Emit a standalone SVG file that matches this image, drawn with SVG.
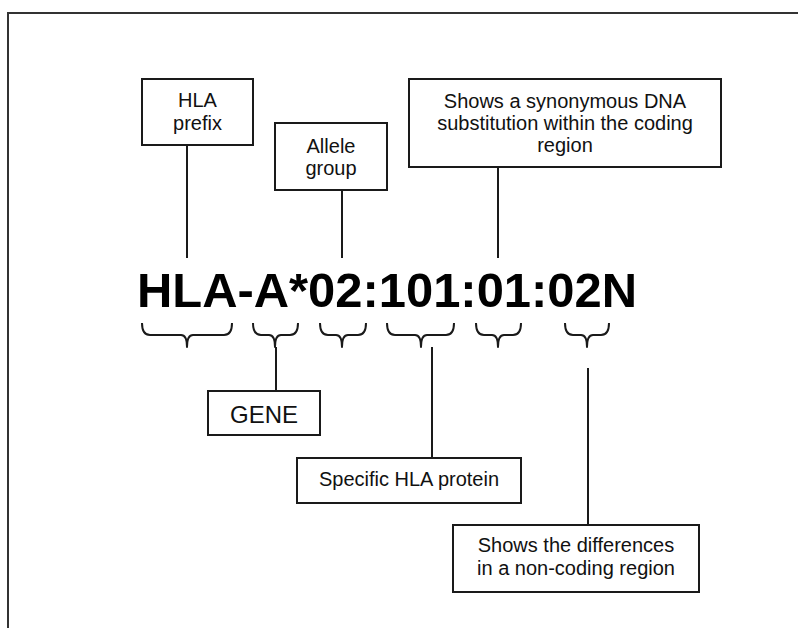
<svg xmlns="http://www.w3.org/2000/svg" width="798" height="628" viewBox="0 0 798 628">
<style>
.box{fill:#fff;stroke:#1a1a1a;stroke-width:2}
.ln{fill:none;stroke:#1a1a1a;stroke-width:2}
.br{fill:none;stroke:#1a1a1a;stroke-width:2;stroke-linejoin:round}
.t{font-family:"Liberation Sans",Arial,sans-serif;font-size:20px;fill:#111;text-anchor:middle}
.big{font-family:"Liberation Sans",Arial,sans-serif;font-size:48px;font-weight:bold;fill:#000}
</style>
<rect width="798" height="628" fill="#fff"/>
<path d="M8,640 V13 H810" fill="none" stroke="#333" stroke-width="2"/>
<g id="connectors">
<line class="ln" x1="187" y1="145" x2="187" y2="258"/>
<line class="ln" x1="342" y1="190" x2="342" y2="258"/>
<line class="ln" x1="498" y1="167" x2="498" y2="258"/>
<line class="ln" x1="276" y1="347" x2="276" y2="391"/>
<line class="ln" x1="432" y1="347" x2="432" y2="458"/>
<line class="ln" x1="588" y1="368" x2="588" y2="525"/>
</g>
<g id="braces">
<path class="br" d="M142,323 Q142,335 150,335 H181 Q187,335 187,347 Q187,335 193,335 H224 Q232,335 232,323"/>
<path class="br" d="M253,323 Q253,335 261,335 H269 Q275,335 275,347 Q275,335 281,335 H290 Q298,335 298,323"/>
<path class="br" d="M320,323 Q320,335 328,335 H336 Q342,335 342,347 Q342,335 348,335 H358 Q366,335 366,323"/>
<path class="br" d="M387,323 Q387,335 395,335 H415 Q421,335 421,347 Q421,335 427,335 H446 Q454,335 454,323"/>
<path class="br" d="M476,323 Q476,335 484,335 H492 Q498,335 498,347 Q498,335 504,335 H513 Q521,335 521,323"/>
<path class="br" d="M565,323 Q565,335 573,335 H581 Q587,335 587,347 Q587,335 593,335 H601 Q609,335 609,323"/>
</g>
<g id="allele-name">
<text class="big" x="137" y="307" textLength="500" lengthAdjust="spacingAndGlyphs">HLA-A*02:101:01:02N</text>
</g>
<g id="hla-prefix">
<rect class="box" x="142" y="79" width="111" height="66"/>
<text class="t" x="197.5" y="107">HLA</text>
<text class="t" x="197.5" y="130">prefix</text>
</g>
<g id="allele-group">
<rect class="box" x="275" y="123" width="112" height="67"/>
<text class="t" x="331" y="153">Allele</text>
<text class="t" x="331" y="175">group</text>
</g>
<g id="synonymous">
<rect class="box" x="409" y="79" width="312" height="88"/>
<text class="t" x="565" y="108">Shows a synonymous DNA</text>
<text class="t" x="565" y="130">substitution within the coding</text>
<text class="t" x="565" y="152">region</text>
</g>
<g id="gene">
<rect class="box" x="208" y="391" width="112" height="44"/>
<text class="t" x="264" y="423" style="font-size:24px">GENE</text>
</g>
<g id="protein">
<rect class="box" x="297" y="458" width="224" height="45"/>
<text class="t" x="409" y="486">Specific HLA protein</text>
</g>
<g id="non-coding">
<rect class="box" x="453" y="525" width="246" height="67"/>
<text class="t" x="576" y="552">Shows the differences</text>
<text class="t" x="576" y="575">in a non-coding region</text>
</g>
</svg>
